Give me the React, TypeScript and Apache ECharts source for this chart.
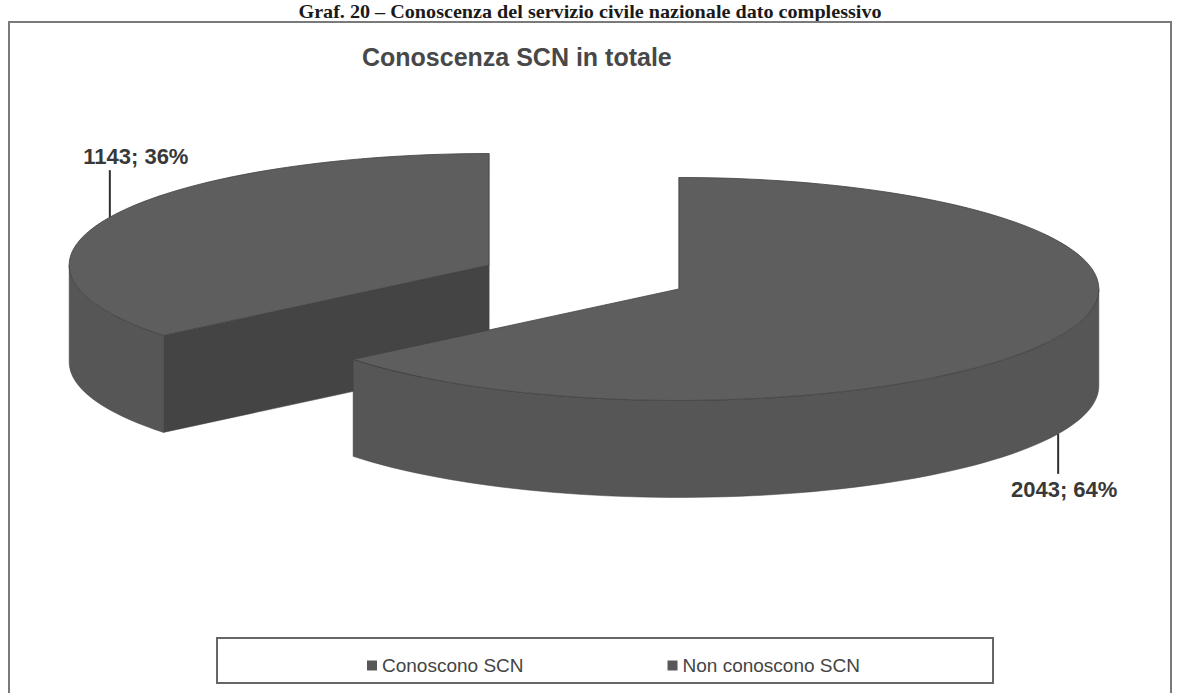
import React, { useEffect, useRef } from 'react';
import * as echarts from 'echarts';

const pageTitle = 'Graf. 20 – Conoscenza del servizio civile nazionale dato complessivo';
const chartTitle = 'Conoscenza SCN in totale';
const categories = ['Conoscono SCN', 'Non conoscono SCN'];
const counts = [2043, 1143];
const percentages = [64, 36];

// layout / style constants
const CX0 = 584;
const CY0 = 277;
const RX = 420;
const RY = 111.5;
const DEPTH = 97;
const EXPLODE = 105;
const TOP_FILL = '#5e5e5e';
const WALL_FILL = '#565656';
const CUT_FILL = '#444444';
const EDGE = '#404040';
const SANS = '"Liberation Sans", Arial, sans-serif';

function makeRender(idx: number) {
  return (params: any, api: any) => {
    const total = counts.reduce((s, v) => s + v, 0);
    const before = counts.slice(0, idx).reduce((s, v) => s + v, 0);
    const v = api.value(0);
    const a0 = (before / total) * Math.PI * 2;
    const a1 = ((before + v) / total) * Math.PI * 2;
    const m = (a0 + a1) / 2;
    const cx = CX0 + EXPLODE * Math.sin(m);
    const cy = CY0 - EXPLODE * (RY / RX) * Math.cos(m);
    const pt = (t: number, dz = 0) => [cx + RX * Math.sin(t), cy - RY * Math.cos(t) + dz];
    const arc = (s: number, e: number, dz = 0) => {
      const n = Math.max(4, Math.ceil(((e - s) / (Math.PI * 2)) * 180));
      const out: number[][] = [];
      for (let i = 0; i <= n; i++) out.push(pt(s + ((e - s) * i) / n, dz));
      return out;
    };
    const children: any[] = [];
    const cutFace = (a: number) => ({
      type: 'polygon',
      shape: { points: [[cx, cy], pt(a), pt(a, DEPTH), [cx, cy + DEPTH]] },
      style: { fill: CUT_FILL, stroke: EDGE, lineWidth: 0.5 },
    });
    if (Math.sin(a0) < -1e-6) children.push(cutFace(a0));
    if (Math.sin(a1) > 1e-6) children.push(cutFace(a1));
    const ws = Math.max(a0, Math.PI / 2);
    const we = Math.min(a1, (Math.PI * 3) / 2);
    if (ws < we) {
      const topArc = arc(ws, we);
      const botArc = arc(ws, we, DEPTH).reverse();
      children.push({
        type: 'polygon',
        shape: { points: topArc.concat(botArc) },
        style: { fill: WALL_FILL, stroke: EDGE, lineWidth: 0.5 },
      });
    }
    children.push({
      type: 'polygon',
      shape: { points: [[cx, cy]].concat(arc(a0, a1)) },
      style: { fill: TOP_FILL, stroke: EDGE, lineWidth: 0.8 },
    });
    const front = Math.cos(m) < 0;
    const lp = front ? pt(m, DEPTH) : pt(m);
    const lineLen = front ? 40 : 47;
    const endY = front ? lp[1] + lineLen : lp[1] - lineLen;
    children.push({
      type: 'line',
      shape: { x1: lp[0], y1: lp[1], x2: lp[0], y2: endY },
      style: { stroke: '#2e2e2e', lineWidth: 2 },
    });
    const labelText = `${counts[idx]}; ${percentages[idx]}%`;
    children.push({
      type: 'text',
      style: {
        text: labelText,
        x: front ? lp[0] + 6 : lp[0] + 26,
        y: front ? endY + 16 : endY - 14,
        align: 'center',
        verticalAlign: 'middle',
        textAlign: 'center',
        textVerticalAlign: 'middle',
        font: `bold 22px ${SANS}`,
        fill: '#383838',
      },
    });
    return { type: 'group', children };
  };
}

export default function App() {
  const ref = useRef<HTMLDivElement>(null);
  useEffect(() => {
    if (!ref.current) return;
    const chart = echarts.init(ref.current, null, { renderer: 'svg' });
    const option: any = {
      animation: false,
      backgroundColor: '#ffffff',
      legend: {
        data: categories,
        left: 362,
        top: 651,
        itemWidth: 10,
        itemHeight: 10,
        itemGap: 144,
        icon: 'rect',
        selectedMode: false,
        textStyle: { fontSize: 19, color: '#444', fontFamily: SANS },
      },
      graphic: [
        {
          type: 'text',
          x: 590,
          y: 11.5,
          scaleX: 1.12,
          scaleY: 1.1,
          style: {
            text: pageTitle,
            x: 0,
            y: 0,
            align: 'center',
            verticalAlign: 'middle',
            textAlign: 'center',
            textVerticalAlign: 'middle',
            font: 'bold 18px "Liberation Serif", "Times New Roman", serif',
            fill: '#1a1a1a',
          },
        },
        {
          type: 'rect',
          shape: { x: 9, y: 22, width: 1162, height: 700 },
          style: { fill: 'none', stroke: '#7a7a7a', lineWidth: 2 },
        },
        {
          type: 'text',
          style: {
            text: chartTitle,
            x: 362,
            y: 57,
            align: 'left',
            verticalAlign: 'middle',
            textAlign: 'left',
            textVerticalAlign: 'middle',
            font: `bold 25px ${SANS}`,
            fill: '#484848',
          },
        },
        {
          type: 'rect',
          shape: { x: 217, y: 638, width: 776, height: 45 },
          style: { fill: 'none', stroke: '#666', lineWidth: 2 },
        },
      ],
      series: categories.map((name, i) => ({
        type: 'custom',
        name,
        coordinateSystem: 'none',
        z: i === 0 ? 3 : 2,
        itemStyle: { color: '#585858' },
        renderItem: makeRender(i),
        data: [[counts[i]]],
      })),
    };
    chart.setOption(option);
    return () => chart.dispose();
  }, []);
  return (
    <div
      ref={ref}
      style={{ position: 'fixed', left: 0, top: 0, width: 1179, height: 693, background: '#fff' }}
    />
  );
}
